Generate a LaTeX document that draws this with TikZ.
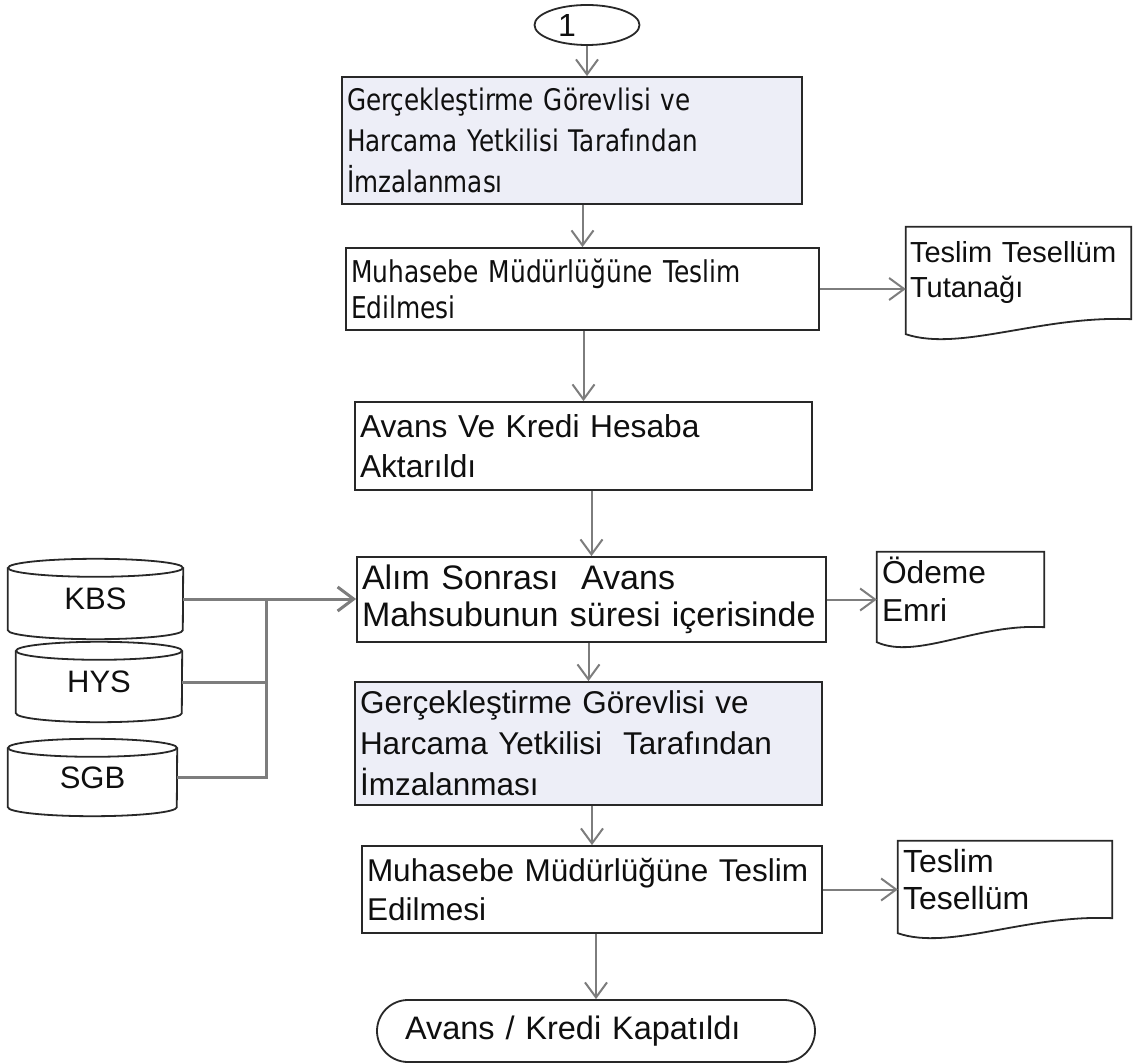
\documentclass[tikz,border=0pt]{standalone}
\usepackage{fontspec}
\setmainfont{Liberation Sans}
\newfontfamily\tahomalike[FakeStretch=0.83]{DejaVu Sans}
\usetikzlibrary{shapes.geometric,arrows.meta,calc}
\definecolor{boxfill}{RGB}{237,238,247}
\definecolor{arrgray}{RGB}{125,125,125}
\definecolor{edge}{RGB}{40,40,40}
\definecolor{ink}{RGB}{15,15,15}
\newcommand\docpath[1]{\draw[edgeline] (#1.north west) -- (#1.north east) -- (#1.south east) .. controls ($(#1.south west)!0.6!(#1.south east)+(0,-4)$) and ($(#1.south west)!0.24!(#1.south east)+(0,33)$) .. ($(#1.south west)+(0,15)$) -- cycle;}
\newcommand\cylpath[2]{%
  \draw[edgeline] ($(#1.north)+(0,9)$) ellipse [x radius=#2pt, y radius=9pt];
  \draw[edgeline] ($(#1.north west)+(0,9)$) -- ($(#1.south west)+(0,-9)$) arc[start angle=180,end angle=360,x radius=#2pt,y radius=9pt] -- ($(#1.north east)+(0,9)$);}
\tikzset{
  edgeline/.style={draw=edge, line width=1.8pt},
  procbox/.style={rectangle, draw=edge, line width=1.8pt, align=left, inner xsep=5pt, inner ysep=0pt, text=ink},
  shadedbox/.style={procbox, fill=boxfill},
  docbox/.style={rectangle, align=left, inner xsep=5pt, inner ysep=0pt, text=ink},
  dbbox/.style={rectangle, inner sep=0pt, text=ink},
  arr/.style={draw=arrgray, line width=2pt, -{Straight Barb[length=15pt,width=22pt]}},
  conn/.style={draw=arrgray, line width=3pt},
}
\begin{document}
\begin{tikzpicture}[x=1pt,y=-1pt]
\fill[white] (0,0) rectangle (1141,1064);
\useasboundingbox (0,0) rectangle (1141,1064);

% start connector
\node[ellipse, draw=edge, line width=1.8pt, minimum width=105pt, minimum height=40pt, inner sep=0pt, text=ink, font=\fontsize{32}{32}\selectfont] (c1) at (587,25) {\kern-20pt 1\kern20pt};

% process boxes
\node[shadedbox, minimum width=460pt, minimum height=127pt, text width=450pt, font=\tahomalike\fontsize{29.7}{41}\selectfont] (b1) at (572,140.5) {Gerçekleştirme Görevlisi ve\\Harcama Yetkilisi Tarafından\\İmzalanması};
\node[procbox, minimum width=473pt, minimum height=82pt, text width=463pt, font=\tahomalike\fontsize{30}{36}\selectfont] (b2) at (582.5,289) {Muhasebe Müdürlüğüne Teslim\\Edilmesi};
\node[procbox, minimum width=457pt, minimum height=88pt, text width=447pt, font=\fontsize{31.7}{40}\selectfont] (b3) at (583.5,446) {Avans Ve Kredi Hesaba\\Aktarıldı};
\node[procbox, minimum width=469pt, minimum height=85pt, text width=459pt, font=\fontsize{34}{37}\selectfont] (b4) at (591.5,599.5) {Alım Sonrası~~Avans\\Mahsubunun süresi içerisinde};
\node[shadedbox, minimum width=467pt, minimum height=123pt, text width=457pt, font=\fontsize{31.5}{41}\selectfont] (b5) at (588.5,743.5) {Gerçekleştirme Görevlisi ve\\Harcama Yetkilisi~~Tarafından\\İmzalanması};
\node[procbox, minimum width=460pt, minimum height=87pt, text width=450pt, font=\fontsize{31.5}{39}\selectfont] (b6) at (592,889.5) {Muhasebe Müdürlüğüne Teslim\\Edilmesi};
\node[rectangle, rounded corners=31pt, draw=edge, line width=1.8pt, minimum width=438pt, minimum height=62pt, text width=382pt, inner xsep=28pt, inner ysep=0pt, align=left, text=ink, font=\fontsize{32.5}{38}\selectfont] (term) at (596,1031) {Avans / Kredi Kapatıldı};

% documents
\node[docbox, minimum width=225pt, minimum height=92pt, text width=217pt, inner xsep=4pt, font=\fontsize{29}{35}\selectfont] (d1) at (1018.5,273) {Teslim Tesellüm\\Tutanağı};
\node[docbox, minimum width=167pt, minimum height=75pt, text width=157pt, font=\fontsize{31.7}{38}\selectfont] (d2) at (960.5,589.5) {Ödeme\\Emri};
\node[docbox, minimum width=214pt, minimum height=77pt, text width=204pt, font=\fontsize{32}{37}\selectfont] (d3) at (1005,879.5) {Teslim\\Tesellüm};
\docpath{d1}
\docpath{d2}
\docpath{d3}

% databases
\node[dbbox, minimum width=175pt, minimum height=80pt, font=\fontsize{31}{31}\selectfont] (kbs) at (95.5,599) {\raisebox{-3pt}{KBS}};
\node[dbbox, minimum width=166pt, minimum height=80pt, font=\fontsize{31}{31}\selectfont] (hys) at (99,682) {\raisebox{-5pt}{HYS}};
\node[dbbox, minimum width=169pt, minimum height=77pt, font=\fontsize{31}{31}\selectfont] (sgb) at (92.5,777.5) {\raisebox{-3pt}{SGB}};
\cylpath{kbs}{87.5}
\cylpath{hys}{83}
\cylpath{sgb}{84.5}

% vertical flow
\draw[arr] (c1.south) -- (c1.south |- b1.north);
\draw[arr] (b2.north |- b1.south) -- (b2.north);
\draw[arr] (b3.north |- b2.south) -- (b3.north);
\draw[arr] (b4.north |- b3.south) -- (b4.north);
\draw[arr] (b5.north |- b4.south) -- (b5.north);
\draw[arr] (b6.north |- b5.south) -- (b6.north);
\draw[arr] (term.north |- b6.south) -- (term.north);

% to documents
\draw[arr] (b2.east) -- (b2.east -| d1.west);
\draw[arr] (b4.east) -- (b4.east -| d2.west);
\draw[arr] (b6.east) -- (b6.east -| d3.west);

% database bus
\coordinate (bus) at (266,700);
\draw[conn] (sgb.east) -- (sgb.east -| bus) -- (kbs.east -| bus);
\draw[conn] (hys.east) -- (hys.east -| bus);
\draw[conn, -{Straight Barb[length=16pt,width=24pt]}] (kbs.east) -- (b4.west |- kbs.east);
\end{tikzpicture}
\end{document}
